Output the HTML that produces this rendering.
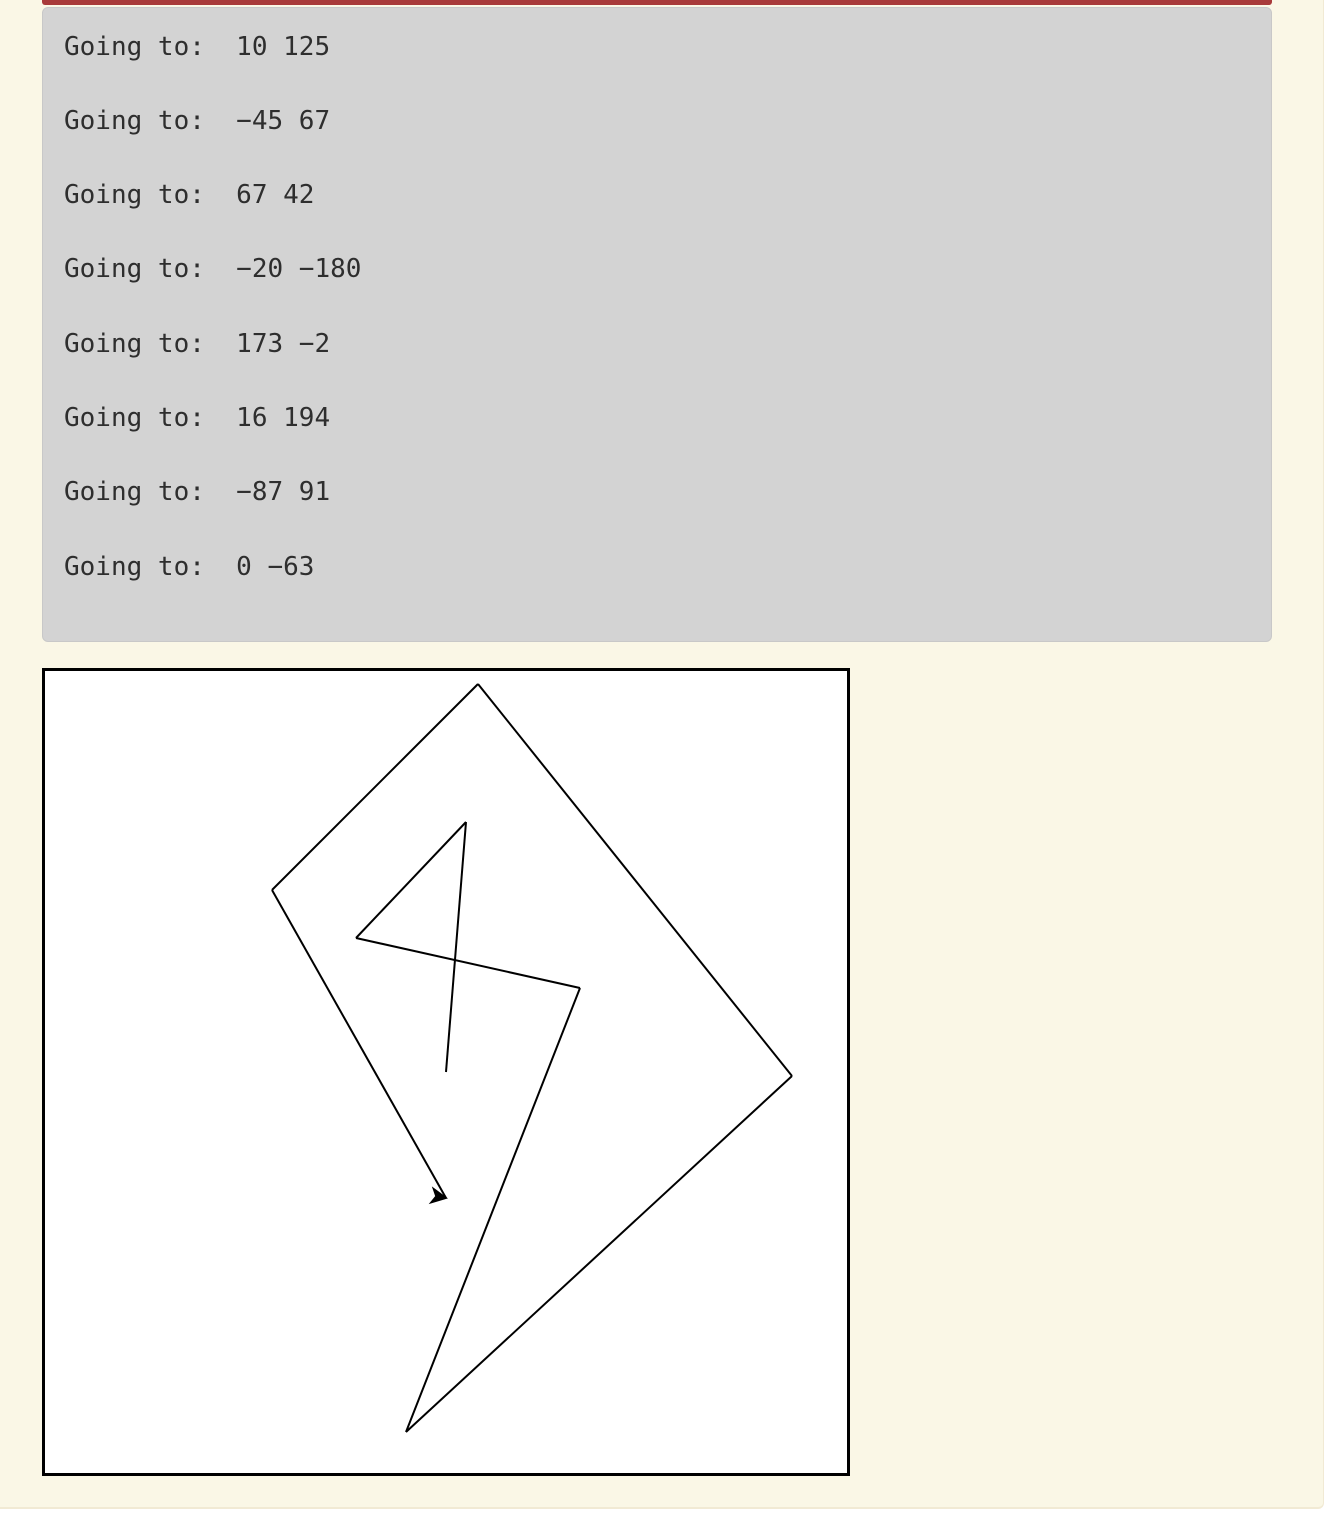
<!DOCTYPE html>
<html><head><meta charset="utf-8">
<style>
html,body{margin:0;padding:0;background:#fff;}
body{width:1340px;height:1530px;position:relative;overflow:hidden;}
#page{position:absolute;left:0;top:0;width:1323px;height:1507px;background:#faf7e6;border-bottom:2px solid #f1ead4;border-right:1px solid #f1ead4;border-radius:0 0 6px 0;}
#redbar{position:absolute;left:42px;top:0;width:1230px;height:5px;background:#a83a3a;border-radius:0 0 3px 3px;}
#out{position:absolute;left:42px;top:7px;width:1228px;height:633px;background:#d3d3d3;border:1px solid #c8c8c8;border-radius:6px;}
.line{position:absolute;left:21px;font-family:"DejaVu Sans Mono","Liberation Mono",monospace;font-size:26px;color:#2e2e2e;white-space:pre;line-height:30px;}
#canvas{position:absolute;left:42px;top:668px;width:802px;height:802px;border:3px solid #000;background:#fff;}
</style></head><body>
<div id="page"></div>
<div id="redbar"></div>
<div id="out"></div>
<div id="canvas">
<svg id="svg" width="802" height="802"></svg>
</div>
<script>
const xs = [10, -45, 67, -20, 173, 16, -87, 0];
const ys = [125, 67, 42, -180, -2, 194, 91, -63];
const out = document.getElementById('out');
const tops = [24, 98, 172, 246, 321, 395, 469, 544];
for (let i = 0; i < xs.length; i++) {
  const d = document.createElement('div');
  d.className = 'line';
  d.style.top = (tops[i]) + 'px';
  d.textContent = 'Going to:  ' + String(xs[i]).replace('-', '\u2212') + ' ' + String(ys[i]).replace('-', '\u2212');
  
  
  out.appendChild(d);
}
const svg = document.getElementById('svg');
const NS = 'http://www.w3.org/2000/svg';
const ox = 401, oy = 401, sc = 2;
const px = v => ox + v * sc;
const py = v => oy - v * sc;
let cx = 0, cy = 0;
for (let i = 0; i < xs.length; i++) {
  const l = document.createElementNS(NS, 'line');
  l.setAttribute('x1', px(cx)); l.setAttribute('y1', py(cy));
  l.setAttribute('x2', px(xs[i])); l.setAttribute('y2', py(ys[i]));
  l.setAttribute('stroke', '#000'); l.setAttribute('stroke-width', '2');
  
  
  svg.appendChild(l);
  cx = xs[i]; cy = ys[i];
}
// turtle heading unchanged by goto: points east
const arrow = document.createElementNS(NS, 'polygon');
arrow.setAttribute('points', '2,0 -16,-9 -11,0 -16,9');
arrow.setAttribute('fill', '#000');
arrow.setAttribute('transform', 'translate(' + px(cx) + ',' + py(cy) + ') rotate(10)');


svg.appendChild(arrow);
</script>
</body></html>
